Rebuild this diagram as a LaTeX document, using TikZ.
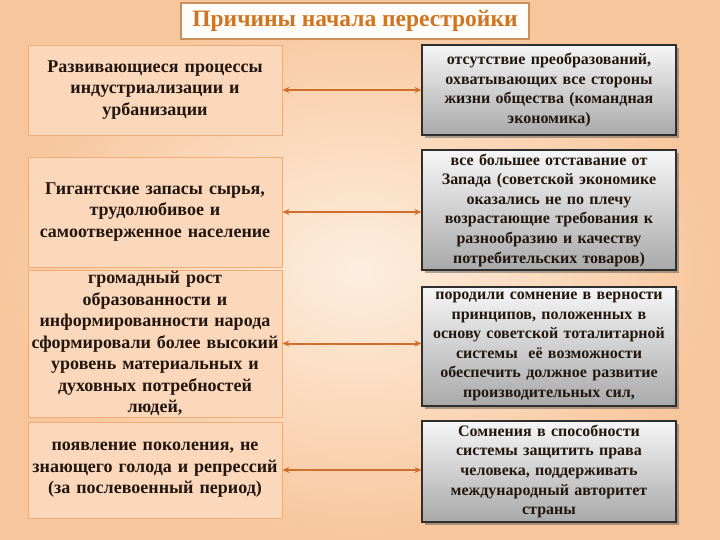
\documentclass[tikz,border=0pt]{standalone}
\usepackage{fontspec}
\setmainfont{Liberation Serif}
\usetikzlibrary{shadows,arrows.meta}
\definecolor{bgin}{HTML}{FDEEDF}
\definecolor{bgout}{HTML}{F8C69C}
\definecolor{lfill}{HTML}{FBD8BC}
\definecolor{lborder}{HTML}{EFAE78}
\definecolor{rtop}{HTML}{F6F6F6}
\definecolor{rbot}{HTML}{A9A9A9}
\definecolor{rborder}{HTML}{2E2E2E}
\definecolor{arr}{HTML}{D06E2C}
\definecolor{ttl}{HTML}{D0741F}
\definecolor{ttlborder}{HTML}{C8905C}
\definecolor{txt}{HTML}{22160E}
\tikzset{
  lbox/.style={draw=lborder, line width=0.8pt, fill=lfill, minimum width=254pt, text width=250pt, align=center, inner sep=0pt, font=\bfseries\fontsize{18}{21.5}\selectfont, text=txt},
  rbox/.style={draw=rborder, line width=1.1pt, top color=rtop, bottom color=rbot, minimum width=254pt, text width=250pt, align=center, inner sep=0pt, font=\bfseries\fontsize{16}{19.6}\selectfont, text=txt, drop shadow={shadow xshift=3pt, shadow yshift=-3pt, opacity=0.45, fill=black!70}},
  link/.style={draw=arr, line width=2pt, {Stealth[length=7pt,width=6pt]}-{Stealth[length=7pt,width=6pt]}}
}
\begin{document}
\begin{tikzpicture}[x=1pt,y=-1pt]
\useasboundingbox (0,0) rectangle (720,540);
\shade[inner color=bgin, outer color=bgout] (0,0) rectangle (720,540);
\node[draw=ttlborder, line width=1.6pt, fill=white!85!bgin, minimum width=348pt, minimum height=36pt, inner sep=0pt, font=\bfseries\fontsize{23.5}{28}\selectfont, text=ttl] (title) at (355,21) {Причины начала перестройки};
\node[lbox, minimum height=90pt] (L1) at (155,90) {Развивающиеся процессы\\индустриализации и\\урбанизации};
\node[lbox, minimum height=110pt] (L2) at (155,212) {Гигантские запасы сырья,\\трудолюбивое и\\самоотверженное население};
\node[lbox, minimum height=147pt] (L3) at (155,343.5) {громадный рост\\образованности и\\информированности народа\\сформировали более высокий\\уровень материальных и\\духовных потребностей\\людей,};
\node[lbox, minimum height=96pt] (L4) at (155,470) {появление поколения, не\\знающего голода и репрессий\\(за послевоенный период)};
\node[rbox, minimum height=90pt] (R1) at (549,90) {отсутствие преобразований,\\охватывающих все стороны\\жизни общества (командная\\экономика)};
\node[rbox, minimum height=120pt] (R2) at (549,210) {все большее отставание от\\Запада (советской экономике\\оказались не по плечу\\возрастающие требования к\\разнообразию и качеству\\потребительских товаров)};
\node[rbox, minimum height=119pt] (R3) at (549,346.5) {породили сомнение в верности\\принципов, положенных в\\основу советской тоталитарной\\системы~~её возможности\\обеспечить должное развитие\\производительных сил,};
\node[rbox, minimum height=101pt] (R4) at (549,471.5) {Сомнения в способности\\системы защитить права\\человека, поддерживать\\международный авторитет\\страны};
\draw[link] (L1.east) -- (L1.east -| R1.west);
\draw[link] (L2.east) -- (L2.east -| R2.west);
\draw[link] (L3.east) -- (L3.east -| R3.west);
\draw[link] (L4.east) -- (L4.east -| R4.west);
\end{tikzpicture}
\end{document}
